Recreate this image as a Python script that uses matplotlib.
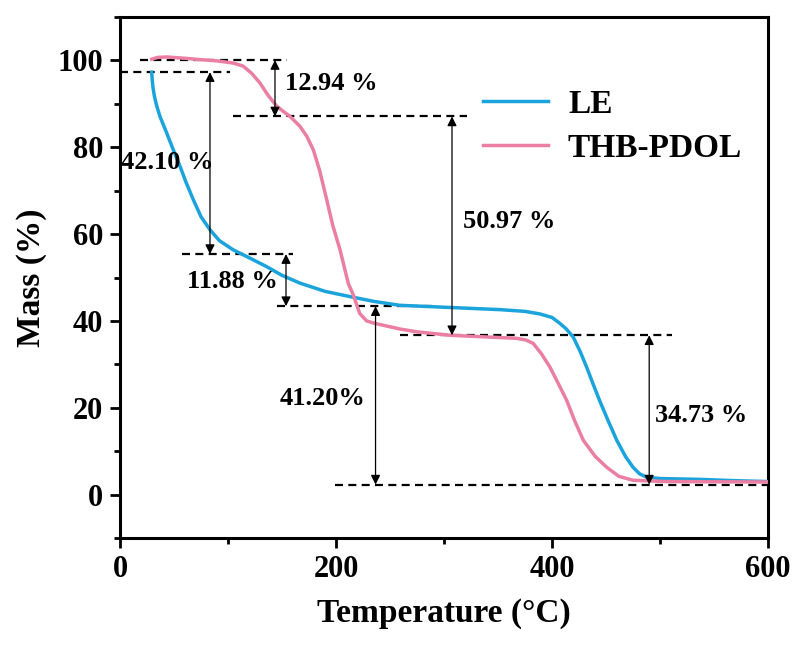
import matplotlib
matplotlib.use("Agg")
import matplotlib.pyplot as plt

# TGA curves
le_temp = [29.3, 29.8, 30.5, 31.8, 34, 37, 43.2, 50, 55.6, 61, 67.9, 75, 83.3, 92, 104.6, 120,
           135.8, 150, 166.7, 190, 213, 235, 259, 305.6, 352, 375, 389, 400, 407,
           413, 419.6, 426, 432, 438, 444, 452, 460, 468, 475, 481, 487.6, 500,
           537, 570, 600]
le_mass = [97.3, 95.6, 93.8, 91.8, 89.5, 87.1, 83.3, 79, 75.6, 72, 67.9, 64, 61, 58.5, 56.4, 54.5,
           52.5, 50.5, 48.7, 46.8, 45.6, 44.5, 43.6, 43.1, 42.6, 42.2, 41.6, 40.8, 39.5,
           38.2, 36.3, 33, 29.4, 25.5, 21.7, 17, 12.5, 8.8, 6.3, 4.8, 4.0, 3.7,
           3.5, 3.2, 3.0]

thb_temp = [29.4, 35, 43, 60, 74, 90, 104.7, 114, 122, 129.6, 137, 145, 151, 157.4,
            166.7, 173, 179, 185, 191.4, 197, 203.7, 211.4, 216, 222, 228.4, 235,
            243.8, 260, 274.7, 305.6, 340, 367, 376, 382.7, 390, 398, 406, 413.6,
            421, 429, 440, 450.6, 462, 475, 506, 550, 600]
thb_mass = [100.3, 100.7, 100.8, 100.5, 100.2, 99.9, 99.4, 98.7, 97, 94.8, 92, 89.5, 88.3, 87.1,
            84.8, 82.5, 79.4, 74.5, 67.9, 62, 56.4, 48.6, 46, 41.7, 40, 39.5,
            39, 38.1, 37.5, 36.7, 36.3, 36, 35.6, 34.8, 32.5, 29.4, 25.5, 21.7,
            17, 12.5, 8.8, 6.3, 4.2, 3.3, 3.0, 2.95, 2.9]

# dashed guide lines: (x start, x end, level)
guide_x0 = [18.5, 0, 104.6, 57, 145, 259, 199]
guide_x1 = [154.6, 102, 321, 160.5, 292.6, 511, 600]
guide_y = [100.1, 97.3, 87.1, 55.4, 43.4, 36.7, 2.3]

# mass-loss arrows: (x, top, bottom) and their labels
arrow_x = [83.3, 143.5, 153.7, 236.6, 307.4, 490]
arrow_top = [97.3, 100.1, 55.4, 43.4, 87.1, 36.7]
arrow_bot = [55.4, 87.1, 43.4, 2.3, 36.7, 2.3]
loss_labels = ["42.10 %", "12.94 %", "11.88 %", "41.20%", "50.97 %", "34.73 %"]
label_x = [1, 152.8, 62.3, 148, 317.6, 495.4]
label_y = [76.4, 94.7, 49.0, 22.2, 62.9, 18.2]

plt.rcParams['font.family'] = ['Liberation Serif', 'DejaVu Serif']
plt.rcParams['font.weight'] = 'bold'
plt.rcParams['axes.labelweight'] = 'bold'

fig = plt.figure(figsize=(7.98, 6.5), dpi=100)
ax = fig.add_axes([0.1504, 0.1723, 0.8120, 0.8015])

ax.plot(le_temp, le_mass, color='#1ba3db', lw=2.5, label='LE', zorder=3)
ax.plot(thb_temp, thb_mass, color='#ea7fa3', lw=2.5, label='THB-PDOL', zorder=3)

for x0, x1, y in zip(guide_x0, guide_x1, guide_y):
    ax.plot([x0, x1], [y, y], color='black', lw=1.6, ls=(0, (3.6, 2.4)), zorder=2)

for x, yt, yb in zip(arrow_x, arrow_top, arrow_bot):
    ax.annotate('', xy=(x, yt), xytext=(x, yb),
                arrowprops=dict(arrowstyle='<|-|>', color='black', lw=0.9,
                                mutation_scale=14, shrinkA=0, shrinkB=0), zorder=4)

for txt, x, y in zip(loss_labels, label_x, label_y):
    ax.text(x, y, txt, fontsize=19, fontweight='bold', ha='left', va='center', zorder=5)

ax.set_xlim(0, 600)
ax.set_ylim(-10, 110)
ax.set_xticks([0, 200, 400, 600])
ax.set_xticks([100, 300, 500], minor=True)
ax.set_yticks([0, 20, 40, 60, 80, 100])
ax.set_yticks(range(-10, 111, 10), minor=True)

for s in ax.spines.values():
    s.set_linewidth(2.2)
ax.tick_params(which='major', direction='out', length=7, width=2, labelsize=22, pad=5)
ax.tick_params(which='minor', direction='out', length=4.5, width=2)

ax.set_xlabel('Temperature (°C)', fontsize=24, labelpad=10)
ax.set_ylabel('Mass (%)', fontsize=24, labelpad=8)

ax.legend(loc='upper left', bbox_to_anchor=(0.56, 0.862), frameon=False,
          fontsize=24, handlelength=1.95, handletextpad=0.6, labelspacing=0.38,
          borderpad=0, borderaxespad=0)

fig.savefig('out.png', dpi=100)
